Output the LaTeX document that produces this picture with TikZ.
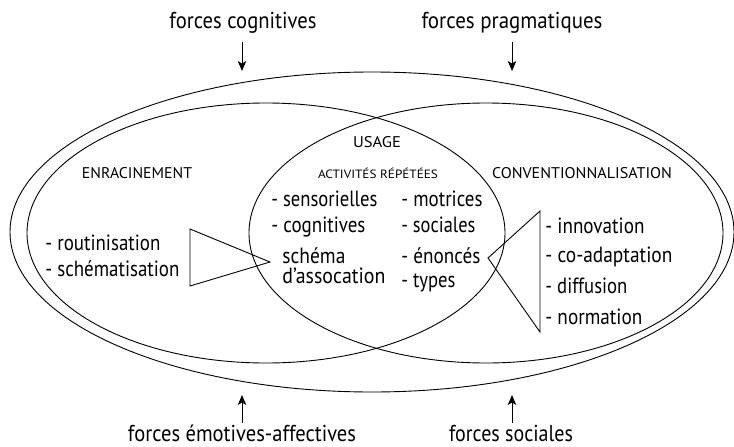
\documentclass[tikz,border=0pt]{standalone}
\usepackage{fontspec}
\setmainfont{PT Sans}
\usetikzlibrary{arrows.meta}

% width of a text, in pt (height kept)
\newcommand{\fitw}[2]{\resizebox{#1pt}{\height}{#2}}

\begin{document}
\begin{tikzpicture}[
  x=1pt, y=-1pt,
  line width=0.9pt,
  every node/.style={inner sep=0pt},
  force/.style={font=\fontsize{23}{27}\selectfont, anchor=base},
  title/.style={font=\fontsize{15.5}{18}\selectfont, anchor=base},
  subtitle/.style={font=\fontsize{12}{14}\selectfont, anchor=base},
  item/.style={font=\fontsize{22}{26}\selectfont, anchor=base west},
]
%-------------------------------------------------------------
% Arrow style
\tikzset{forcearrow/.style={draw,-{Stealth[length=10pt,width=8.5pt,inset=2.5pt]}}}

\useasboundingbox (0,0) rectangle (734,447);

%-------------------------------------------------------------
% Ellipses
\draw (372,232) ellipse [x radius=362, y radius=160]; % outer
\draw (266,233) ellipse [x radius=239, y radius=130]; % enracinement
\draw (486,233) ellipse [x radius=237, y radius=130]; % conventionnalisation

%============================================================
% Forces
\node[force] (fcog) at (243,28) {\fitw{147}{forces cognitives}};
\node[force] (fprag) at (512,28) {\fitw{181}{forces pragmatiques}};
\node[force] (femo) at (242,441) {\fitw{228}{forces émotives-affectives}};
\node[force] (fsoc) at (511,441) {\fitw{124}{forces sociales}};

\coordinate (fcogtip) at (242,71);
\coordinate (fpragtip) at (512,71);
\coordinate (femotip) at (242,395);
\coordinate (fsoctip) at (512,395);

\draw[forcearrow] ([xshift=-1pt,yshift=-14pt]fcog.base) -- (fcogtip);
\draw[forcearrow] ([yshift=-14pt]fprag.base) -- (fpragtip);
\draw[forcearrow] ([yshift=18pt]femo.base) -- (femotip);
\draw[forcearrow] ([xshift=1pt,yshift=18pt]fsoc.base) -- (fsoctip);

%============================================================
% Titles
\node[title] (enr) at (137,178) {\fitw{110}{ENRACINEMENT}};
\node[title] (conv) at (582,178) {\fitw{180}{CONVENTIONNALISATION}};
\node[title] (usage) at (377,147) {\fitw{48}{USAGE}};
\node[subtitle] (act) at (378,178) {\fitw{120}{ACTIVITÉS RÉPÉTÉES}};

%============================================================
% Lists
\node[item] (L1) at (45,250) {\fitw{115}{- routinisation}};
\node[item] (L2) at (45,276) {\fitw{134}{- schématisation}};

\node[item] (U1) at (271,206) {\fitw{106}{- sensorielles}};
\node[item] (U2) at (271,232) {\fitw{94}{- cognitives}};
\node[item] (U3) at (282,263) {\fitw{63}{schéma}};
\node[item] (U4) at (282,283) {\fitw{103}{d’assocation}};
\node[item] (U5) at (401,206) {\fitw{81}{- motrices}};
\node[item] (U6) at (401,232) {\fitw{74}{- sociales}};
\node[item] (U7) at (401,263) {\fitw{79}{- énoncés}};
\node[item] (U8) at (401,287) {\fitw{54}{- types}};

\node[item] (C1) at (545,233) {\fitw{99}{- innovation}};
\node[item] (C2) at (545,262) {\fitw{127}{- co-adaptation}};
\node[item] (C3) at (545,293) {\fitw{82}{- diffusion}};
\node[item] (C4) at (545,324) {\fitw{97}{- normation}};

%---------------------------------------------------
% Funnels
\draw (190,229) -- (190,286) -- (270,262) -- cycle;
\draw (540,211) -- (540,332) -- (488,258) -- cycle;

\end{tikzpicture}
\end{document}
